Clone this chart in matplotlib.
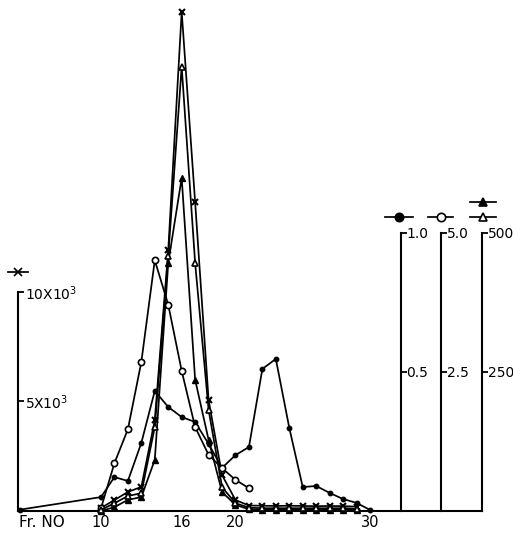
"""
Elution profile of fractions 4-30, one left scale (x) and three right scales.
"""

import matplotlib.pyplot as plt
from matplotlib.lines import Line2D

# fraction numbers
fr_star = list(range(10, 30))
fr_dot = [4] + list(range(10, 31))
fr_circ = list(range(10, 22))
fr_tri = list(range(10, 30))

# x series, left scale (counts)
star_vals = [140, 500, 870, 1100, 4150, 11900, 22800, 14100, 5070, 1640,
             500, 250, 240, 230, 240, 230, 220, 230, 220, 200]

# filled circles, scale 0 - 1.0
dot_vals = [0.005, 0.050, 0.122, 0.108, 0.245, 0.432, 0.374, 0.338, 0.320,
            0.241, 0.155, 0.201, 0.230, 0.511, 0.547, 0.299, 0.086, 0.090,
            0.065, 0.043, 0.029, 0.004]

# open circles, scale 0 - 5.0
circ_vals = [0.05, 0.86, 1.47, 2.68, 4.51, 3.71, 2.52, 1.51, 1.01, 0.77,
             0.56, 0.41]

# open triangles, scale 0 - 500
otri_vals = [2, 14, 27, 32, 151, 459, 799, 446, 182, 43,
             14, 6, 5, 5, 5, 5, 5, 5, 5, 4]

# filled triangles, scale 0 - 500
ftri_vals = [0, 7, 20, 25, 92, 446, 599, 236, 128, 34,
             11, 3, 2, 2, 2, 2, 2, 2, 2, 2]

x_ticks = [10, 16, 20, 30]

plt.rcParams['font.family'] = ['DejaVu Sans']

LW = 1.25
XLIM = (3.83, 38.33)


def make_right_axis(ax, pos, top, ticks, labels):
    axr = ax.twinx()
    axr.set_ylim(0, top)
    for side in ['top', 'left', 'bottom']:
        axr.spines[side].set_visible(False)
    axr.spines['right'].set_position(('axes', pos))
    axr.spines['right'].set_bounds(0, ticks[-1])
    axr.spines['right'].set_linewidth(1.5)
    axr.set_yticks(ticks)
    axr.set_yticklabels(labels)
    axr.tick_params(axis='y', direction='out', length=4, width=1.3, pad=0,
                    labelsize=10)
    axr.patch.set_visible(False)
    return axr


def key(fig, x0, x1, y, marker, ms, mfc):
    # short line with marker, positioned in pixels of the 513x533 figure
    W, H = 513, 533
    fig.add_artist(Line2D([x0 / W, x1 / W], [1 - y / H, 1 - y / H],
                          color='black', lw=LW, transform=fig.transFigure))
    fig.add_artist(Line2D([(x0 + x1) / 2 / W], [1 - y / H], marker=marker,
                          ms=ms, mfc=mfc, mec='black', mew=1.2,
                          color='black', transform=fig.transFigure))


def do_plot():
    fig = plt.figure(figsize=(5.13, 5.33), dpi=100)
    ax = fig.add_axes([0.0351, 0.0413, 0.9045, 0.9493])
    ax.set_xlim(*XLIM)
    ax.set_ylim(0, 23105)

    ax.spines['top'].set_visible(False)
    ax.spines['right'].set_visible(False)
    ax.spines['left'].set_bounds(0, 10000)
    ax.spines['left'].set_linewidth(1.5)
    ax.spines['bottom'].set_linewidth(1.5)

    ax.set_yticks([5000, 10000])
    ax.set_yticklabels(['5X10$^3$', '10X10$^3$'])
    ax.tick_params(axis='y', direction='in', length=4, width=1.3, pad=-5,
                   labelsize=10)
    for lbl in ax.get_yticklabels():
        lbl.set_ha('left')

    ax.set_xticks(x_ticks)
    ax.set_xticklabels([str(t) for t in x_ticks])
    ax.tick_params(axis='x', length=0, pad=3, labelsize=10.5)
    ax.annotate('Fr. NO', xy=(0, 0), xycoords='axes fraction',
                xytext=(1, -3), textcoords='offset points',
                ha='left', va='top', fontsize=11)

    ax1 = make_right_axis(ax, 0.8254, 1.820, [0.5, 1.0], ['0.5', '1.0'])
    ax2 = make_right_axis(ax, 0.9116, 9.10, [2.5, 5.0], ['2.5', '5.0'])
    ax3 = make_right_axis(ax, 1.0, 910, [250, 500], ['250', '500'])
    for a in (ax1, ax2, ax3):
        a.set_xlim(*XLIM)

    ax1.plot(fr_dot, dot_vals, color='black', lw=LW, marker='o', ms=3.2,
             clip_on=False)
    ax3.plot(fr_tri, ftri_vals, color='black', lw=LW, marker='^', ms=4.5,
             clip_on=False)
    ax3.plot(fr_tri, otri_vals, color='black', lw=LW, marker='^', ms=4.5,
             mfc='white', mew=1.2, clip_on=False)
    ax.plot(fr_star, star_vals, color='black', lw=LW, marker='x', ms=5,
            mew=1.5, clip_on=False)
    ax2.plot(fr_circ, circ_vals, color='black', lw=LW, marker='o', ms=4.5,
             mfc='white', mew=1.2, clip_on=False)

    # keys above the scales
    key(fig, 8, 28, 272, 'x', 6, 'black')
    key(fig, 385, 413, 217, 'o', 6, 'black')
    key(fig, 428, 453, 217, 'o', 6, 'white')
    key(fig, 470, 496, 217, '^', 6, 'white')
    key(fig, 470, 496, 202, '^', 6, 'black')

    fig.savefig('out.png', dpi=100)


if __name__ == '__main__':
    do_plot()
